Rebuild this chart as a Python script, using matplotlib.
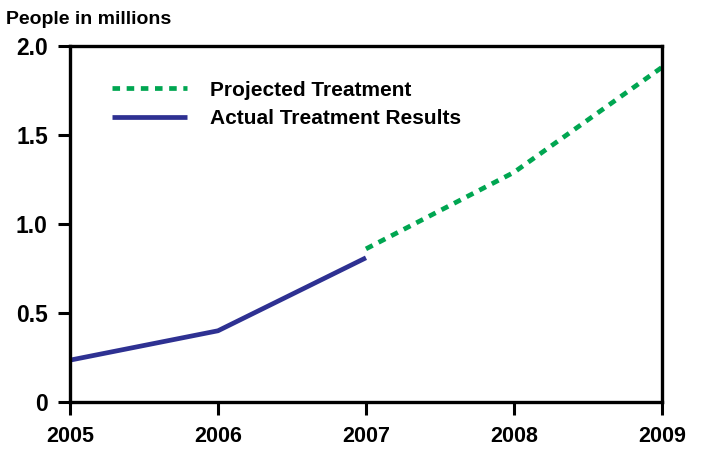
import matplotlib
matplotlib.use("Agg")
import matplotlib.pyplot as plt

years_actual = [2005, 2006, 2007]
actual = [0.235, 0.40, 0.81]
years_proj = [2007, 2008, 2009]
projected = [0.86, 1.29, 1.88]

x_ticks = [2005, 2006, 2007, 2008, 2009]
y_ticks = [0, 0.5, 1.0, 1.5, 2.0]
y_labels = ["0", "0.5", "1.0", "1.5", "2.0"]

blue = "#2e3192"
green = "#00a651"

plt.rcParams['font.family'] = ['Liberation Sans', 'DejaVu Sans']
plt.rcParams['font.weight'] = 'bold'

fig = plt.figure(figsize=(7.04, 4.49), dpi=100)
ax = fig.add_axes([0.0994, 0.1047, 0.8409, 0.793])

ax.plot(years_proj, projected, color=green, lw=3.4, linestyle=(0, (1.6, 1.4)),
        solid_capstyle='butt', dash_capstyle='butt', label="Projected Treatment")
ax.plot(years_actual, actual, color=blue, lw=3.4, solid_capstyle='butt',
        label="Actual Treatment Results")

ax.set_xlim(2005, 2009)
ax.set_ylim(0, 2.0)
ax.set_xticks(x_ticks)
ax.set_xticklabels([str(y) for y in x_ticks], fontsize=15.5, fontweight='bold')
ax.set_yticks(y_ticks)
ax.set_yticklabels(y_labels, fontsize=16.5, fontweight='bold')
ax.tick_params(axis='both', length=9, width=2.2, direction='out')
ax.tick_params(axis='x', pad=8)
ax.tick_params(axis='y', pad=7)
for s in ax.spines.values():
    s.set_linewidth(2.4)

leg = ax.legend(loc='upper left', bbox_to_anchor=(0.04, 0.955), frameon=False,
                prop={'size': 15, 'weight': 'bold'}, handlelength=3.6,
                handletextpad=1.1, labelspacing=0.45)

fig.text(6 / 704, 1 - 19 / 449, "People in millions", fontsize=14,
         fontweight='bold', va='center', ha='left')

fig.savefig("out.png", dpi=100)
